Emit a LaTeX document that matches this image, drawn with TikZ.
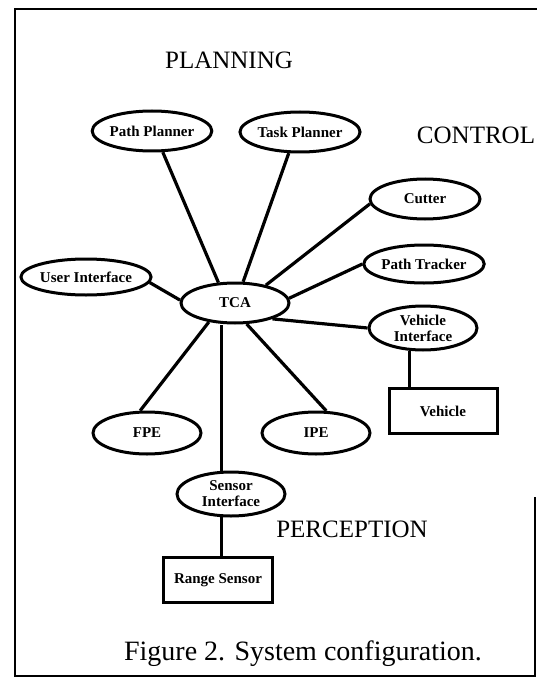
\documentclass[tikz,border=0pt]{standalone}
\usepackage{fontspec}
\setmainfont{Liberation Serif}
\usetikzlibrary{shapes.geometric}

\begin{document}
\begin{tikzpicture}[x=1pt, y=-1pt,
		module/.style={draw, ellipse, line width=3pt, fill=white, inner sep=0pt, minimum width=108pt, minimum height=40pt, align=center, font=\bfseries\fontsize{15}{16}\selectfont},
		device/.style={draw, rectangle, line width=3pt, fill=white, inner sep=0pt, minimum width=108pt, minimum height=45pt, font=\bfseries\fontsize{15}{16}\selectfont},
		group/.style={anchor=base, inner sep=0pt, font=\fontsize{25}{25}\selectfont},
		link/.style={line width=3.2pt}]
		\useasboundingbox (0, 0) rectangle (537, 687);
		% frame of the figure (right side only partly printed)
		\draw [line width=1.6pt] (537, 9) -- (15, 9) -- (15, 676) -- (535, 676) -- (535, 497);

		\node[module] (tca) at (235, 303) {TCA};

		% planning
		\node[group] (planning) at (229, 69) {PLANNING};
		\node[module, minimum width=110pt] (pathplan) at (152, 131) {Path Planner};
		\node[module, minimum width=110pt] (taskplan) at (300, 132) {Task Planner};
		\draw [link] (pathplan.297) -- (tca.129);
		\draw [link] (taskplan.242) -- (tca.69);

		% control
		\node[group] (control) at (476, 144) {CONTROL};
		\node[module, minimum width=110pt] (cutter) at (425, 199) {Cutter};
		\node[module, minimum height=38pt] (tracker) at (424, 264) {Path Tracker};
		\node[module, minimum height=44pt] (vehint) at (423, 328) {Vehicle\\Interface};
		\node[device] (vehicle) at (443, 411) {Vehicle};
		\draw [link] (cutter.185) -- (tca.30);
		\draw [link] (tracker.180) -- (tca.5);
		\draw [link] (vehint.180) -- (tca.-23);
		\draw [link] (vehint.239) -- (vehint.239 |- vehicle.north);

		% user
		\node[module, minimum width=106pt, minimum height=36pt] (user) at (86, 277) {User Interface};
		\draw [link] (user.355) -- (tca.177);

		% perception
		\node[module, minimum height=42pt] (fpe) at (147, 433) {FPE};
		\node[module, minimum height=42pt] (ipe) at (316, 433) {IPE};
		\node[module, minimum height=44pt] (sensint) at (231, 494) {Sensor\\Interface};
		\node[device, minimum width=109pt] (range) at (218, 580) {Range Sensor};
		\node[group] (perception) at (352, 537) {PERCEPTION};
		\draw [link] (fpe.107) -- (tca.216);
		\draw [link] (ipe.65) -- (tca.299);
		\draw [link] (sensint.112) -- (sensint.112 |- tca.south);
		\draw [link] (sensint.248) -- (sensint.248 |- range.north);

		\node[anchor=base, font=\fontsize{28}{28}\selectfont] (caption) at (303, 660) {Figure 2. System configuration.};
	\end{tikzpicture}
\end{document}
